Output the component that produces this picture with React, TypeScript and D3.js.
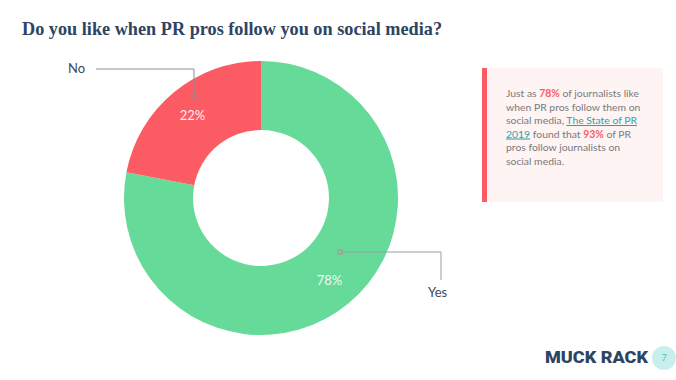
import React from "react";
import * as d3 from "d3";

const categories = ["Yes", "No"];
const values = [78, 22];
const colors = ["#66da98", "#fd5b63"];

export default function App() {
  const W = 676, H = 380;
  const cx = 261, cy = 198, R = 137, r = 68;
  const pie = d3.pie<number>().sort(null).startAngle(0).endAngle(2 * Math.PI);
  const arcs = pie(values);
  const arc = d3.arc<any>().innerRadius(r).outerRadius(R);
  const labelArc = d3.arc<any>().innerRadius((r + R) / 2 + 5).outerRadius((r + R) / 2 + 5);
  const font = "Lato, 'Open Sans', sans-serif";
  return (
    <svg width={W} height={H} style={{ position: "absolute", left: 0, top: 0, background: "#fff" }}>
      <text x={22} y={35} fontFamily="'Liberation Serif', 'DejaVu Serif', serif" fontWeight="bold" fontSize={19} fill="#2d4462" textLength={420} lengthAdjust="spacingAndGlyphs">
        Do you like when PR pros follow you on social media?
      </text>
      <g transform={`translate(${cx},${cy})`}>
        {arcs.map((a, i) => (
          <path key={i} d={arc(a) as string} fill={colors[i]} />
        ))}
        {arcs.map((a, i) => {
          const [lx, ly] = labelArc.centroid(a);
          return (
            <text key={i} x={lx} y={ly} textAnchor="middle" fontFamily={font} fontSize={13} fill="#fff" fillOpacity={0.92} dy="0.35em">
              {values[i]}%
            </text>
          );
        })}
      </g>
      {/* No label */}
      <polyline points="96,69 194,69 194,93" fill="none" stroke="#8a8f94" strokeWidth={1} />
      <circle cx={194} cy={96} r={2.5} fill="none" stroke="#8a8f94" strokeWidth={1} />
      <text x={68} y={73} fontFamily={font} fontSize={13} fill="#3b4a5c">No</text>
      {/* Yes label */}
      <rect x={338} y={250} width={4} height={4} fill="none" stroke="#b48a9a" strokeWidth={1} />
      <polyline points="342,252 441,252 441,280" fill="none" stroke="#9a9ea3" strokeWidth={1} />
      <text x={428} y={297} fontFamily={font} fontSize={13} fill="#3b4a5c">Yes</text>
      {/* Callout box */}
      <rect x={482} y={68} width={181} height={134} fill="#fdf4f3" />
      <rect x={482} y={68} width={5} height={134} fill="#fd5b63" />
      <g fontFamily={font} fontSize={10.4} fill="#7a7a7a">
        <text x={506} y={97}>Just as <tspan fill="#fd5b63" fontWeight="bold">78%</tspan> of journalists like</text>
        <text x={506} y={110.5}>when PR pros follow them on</text>
        <text x={506} y={124}>social media, <tspan fill="#2aa3b0" textDecoration="underline">The State of PR</tspan></text>
        <text x={506} y={137.5}><tspan fill="#2aa3b0" textDecoration="underline">2019</tspan> found that <tspan fill="#fd5b63" fontWeight="bold">93%</tspan> of PR</text>
        <text x={506} y={151}>pros follow journalists on</text>
        <text x={506} y={164.5}>social media.</text>
      </g>
      {/* Logo */}
      <text x={545} y={363} fontFamily="Roboto, 'Open Sans', sans-serif" fontWeight="900" fontSize={16} fill="#2d4462" textLength={103} lengthAdjust="spacingAndGlyphs">MUCK RACK</text>
      <circle cx={664} cy={358} r={12} fill="#c9eeee" />
      <text x={664} y={358} dy="0.35em" textAnchor="middle" fontFamily={font} fontSize={9} fill="#5bbcc4">7</text>
    </svg>
  );
}
